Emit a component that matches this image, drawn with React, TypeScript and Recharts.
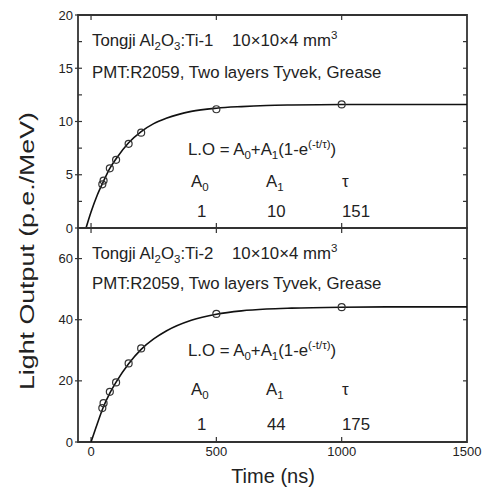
import React from "react";
import { LineChart, Line, XAxis, YAxis, ReferenceLine, ReferenceArea } from "recharts";

const timeTicks = [0, 500, 1000, 1500];
const innerTimeTicks = [0, 500, 1000];
const topMajorTicks = [0, 5, 10, 15, 20];
const topMinorTicks = [2.5, 5, 7.5, 10, 12.5, 15, 17.5];
const bottomTicks = [0, 20, 40, 60];
const bottomInnerTicks = [20, 40, 60];

// measured points, time in ns
const pointTimes = [45, 50, 75, 100, 150, 200, 500, 1000];
const ti1Points = [4.1, 4.45, 5.6, 6.4, 7.9, 8.95, 11.15, 11.6];
const ti2Points = [11.1, 12.7, 16.4, 19.5, 25.7, 30.6, 41.9, 44.1];

// fit curves
const ti1CurveTimes = [-20, 0, 25, 50, 75, 100, 150, 200, 250, 300, 400, 500, 600, 700, 800, 1000, 1200, 1500];
const ti1Curve = [0, 1.5, 3.1, 4.4, 5.6, 6.5, 8.0, 9.05, 9.8, 10.3, 10.95, 11.25, 11.4, 11.5, 11.55, 11.6, 11.6, 11.6];
const ti2CurveTimes = [0, 25, 50, 75, 100, 150, 200, 250, 300, 400, 500, 600, 700, 800, 1000, 1200, 1500];
const ti2Curve = [0, 6.0, 11.6, 16.0, 19.6, 25.6, 30.3, 33.7, 36.3, 39.8, 41.8, 42.9, 43.5, 43.8, 44.1, 44.2, 44.2];

// fit parameters per sample
const sampleNames = ["Ti-1", "Ti-2"];
const fitA0 = [1, 1];
const fitA1 = [10, 44];
const fitTau = [151, 175];

const FONT = "'Liberation Sans', Arial, sans-serif";
const INK = "#222";
const EDGE = "#333";
const tickStyle = { fontSize: 13, fill: INK, fontFamily: FONT };
const DOMAIN_X: [number, number] = [-52, 1500];
const TOP_Y: [number, number] = [0, 20];
const BOTTOM_Y: [number, number] = [0, 70];

const toRows = (xs: number[], ys: number[]) => xs.map((t, i) => ({ t, v: ys[i] }));

const ti1CurveData = toRows(ti1CurveTimes, ti1Curve);
const ti1PointData = toRows(pointTimes, ti1Points);
const ti2CurveData = toRows(ti2CurveTimes, ti2Curve);
const ti2PointData = toRows(pointTimes, ti2Points);

const dotStyle = { r: 3.5, stroke: EDGE, strokeWidth: 1.2, fill: "none" };

// inward tick marks at both ends of a reference line
const TICK_LEN = 5;
function InnerTickX(p: any) {
  const top = Math.min(p.y1, p.y2);
  const bot = Math.max(p.y1, p.y2);
  return (
    <g stroke={EDGE} strokeWidth={1.2}>
      <line x1={p.x1} x2={p.x1} y1={top} y2={top + TICK_LEN} />
      <line x1={p.x1} x2={p.x1} y1={bot} y2={bot - TICK_LEN} />
    </g>
  );
}
function InnerTickY(p: any) {
  const left = Math.min(p.x1, p.x2);
  const right = Math.max(p.x1, p.x2);
  return (
    <g stroke={EDGE} strokeWidth={1.2}>
      <line y1={p.y1} y2={p.y1} x1={left} x2={left + TICK_LEN - 1} />
      <line y1={p.y1} y2={p.y1} x1={right} x2={right - TICK_LEN + 1} />
    </g>
  );
}

type Part = [string, "n" | "sub" | "sup"];

// text with sub/superscripts, each part shifted relative to the previous one
function Rich({ x, y, parts }: { x: number; y: number; parts: Part[] }) {
  let level = 0;
  return (
    <text x={x} y={y}>
      {parts.map(([s, k], i) => {
        const target = k === "sub" ? 4 : k === "sup" ? -7 : 0;
        const dy = target - level;
        level = target;
        return (
          <tspan key={i} dy={dy || undefined} fontSize={k === "n" ? undefined : 11.5}>
            {s}
          </tspan>
        );
      })}
    </text>
  );
}

function PanelText({ idx, y0 }: { idx: number; y0: number[] }) {
  const [yName, yPmt, yFormula, yHead, yVals] = y0;
  return (
    <g fontFamily={FONT} fontSize={16.8} fill={INK}>
      <Rich x={92} y={yName} parts={[["Tongji Al", "n"], ["2", "sub"], ["O", "n"], ["3", "sub"], [":" + sampleNames[idx], "n"]]} />
      <Rich x={232} y={yName} parts={[["10×10×4 mm", "n"], ["3", "sup"]]} />
      <text x={92} y={yPmt}>PMT:R2059, Two layers Tyvek, Grease</text>
      <Rich
        x={188}
        y={yFormula}
        parts={[["L.O = A", "n"], ["0", "sub"], ["+A", "n"], ["1", "sub"], ["(1-e", "n"], ["(-t/τ)", "sup"], [")", "n"]]}
      />
      <Rich x={191} y={yHead} parts={[["A", "n"], ["0", "sub"]]} />
      <Rich x={266} y={yHead} parts={[["A", "n"], ["1", "sub"]]} />
      <text x={342} y={yHead}>τ</text>
      <text x={197} y={yVals}>{fitA0[idx]}</text>
      <text x={267} y={yVals}>{fitA1[idx]}</text>
      <text x={342} y={yVals}>{fitTau[idx]}</text>
    </g>
  );
}

export default function App() {
  return (
    <div style={{ position: "absolute", left: 0, top: 0, width: 487, height: 491, background: "#fff" }}>
      {/* upper panel: Ti-1 */}
      <div style={{ position: "absolute", left: 0, top: 0 }}>
        <LineChart width={482} height={245} margin={{ top: 15, right: 15, bottom: 17, left: 0 }}>
          <XAxis dataKey="t" type="number" domain={DOMAIN_X} ticks={timeTicks} hide allowDataOverflow />
          <YAxis type="number" domain={TOP_Y} ticks={topMajorTicks} width={78} tick={tickStyle}
            tickSize={3} tickMargin={2} axisLine={false} tickLine={{ stroke: EDGE, strokeWidth: 1.2 }} allowDataOverflow />
          <ReferenceArea x1={DOMAIN_X[0]} x2={DOMAIN_X[1]} y1={TOP_Y[0]} y2={TOP_Y[1]} fill="none"
            fillOpacity={0} stroke={EDGE} strokeWidth={1.8} strokeOpacity={1} />
          {innerTimeTicks.map((t) => (
            <ReferenceLine key={"x" + t} x={t} shape={InnerTickX} />
          ))}
          {topMinorTicks.map((v) => (
            <ReferenceLine key={"y" + v} y={v} shape={InnerTickY} />
          ))}
          <Line data={ti1CurveData} dataKey="v" type="monotone" stroke="#111" strokeWidth={1.6} dot={false}
            isAnimationActive={false} />
          <Line data={ti1PointData} dataKey="v" stroke="none" dot={dotStyle} isAnimationActive={false} />
        </LineChart>
      </div>

      {/* lower panel: Ti-2 */}
      <div style={{ position: "absolute", left: 0, top: 227 }}>
        <LineChart width={482} height={264} margin={{ top: 1, right: 15, bottom: 0, left: 0 }}>
          <XAxis dataKey="t" type="number" domain={DOMAIN_X} ticks={timeTicks} height={49} tick={tickStyle}
            tickLine={false} tickSize={2} tickMargin={3} axisLine={false} allowDataOverflow />
          <YAxis type="number" domain={BOTTOM_Y} ticks={bottomTicks} width={78} tick={tickStyle}
            tickSize={3} tickMargin={2} axisLine={false} tickLine={{ stroke: EDGE, strokeWidth: 1.2 }} allowDataOverflow />
          <ReferenceArea x1={DOMAIN_X[0]} x2={DOMAIN_X[1]} y1={BOTTOM_Y[0]} y2={BOTTOM_Y[1]} fill="none"
            fillOpacity={0} stroke={EDGE} strokeWidth={1.8} strokeOpacity={1} />
          {innerTimeTicks.map((t) => (
            <ReferenceLine key={"x" + t} x={t} shape={InnerTickX} />
          ))}
          {bottomInnerTicks.map((v) => (
            <ReferenceLine key={"y" + v} y={v} shape={InnerTickY} />
          ))}
          <Line data={ti2CurveData} dataKey="v" type="monotone" stroke="#111" strokeWidth={1.6} dot={false}
            isAnimationActive={false} />
          <Line data={ti2PointData} dataKey="v" stroke="none" dot={dotStyle} isAnimationActive={false} />
        </LineChart>
      </div>

      <svg width={487} height={491} style={{ position: "absolute", left: 0, top: 0, pointerEvents: "none" }}>
        <PanelText idx={0} y0={[46, 78, 155, 187, 217]} />
        <PanelText idx={1} y0={[259, 289, 356, 395, 430]} />
        <text x={0} y={0} transform="translate(34 251) rotate(-90)" textAnchor="middle" fontFamily={FONT}
          fontSize={21} fill={INK} textLength={278} lengthAdjust="spacingAndGlyphs">
          Light Output (p.e./MeV)
        </text>
        <text x={273} y={483} textAnchor="middle" fontFamily={FONT} fontSize={20} fill={INK}>
          Time (ns)
        </text>
      </svg>
    </div>
  );
}
